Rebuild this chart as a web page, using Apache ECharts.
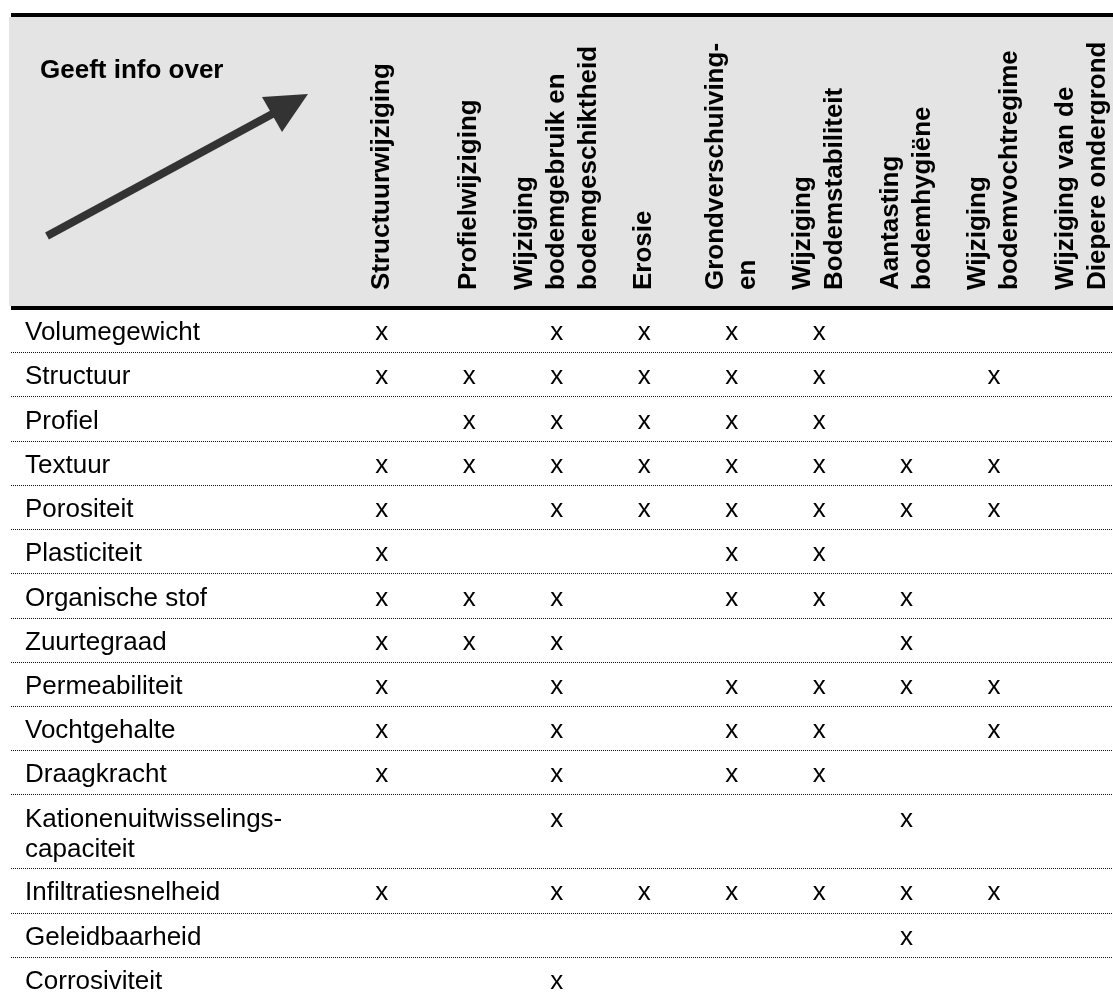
<!DOCTYPE html>
<html>
<head>
<meta charset="utf-8">
<script src="https://cdn.jsdelivr.net/npm/echarts@6/dist/echarts.min.js"></script>
<style>
html, body { margin: 0; padding: 0; background: #fff; }
#chart { width: 1113px; height: 1001px; }
</style>
</head>
<body>
<div id="chart"></div>
<script>
const headerTitle = 'Geeft info over'

const columns = [
    'Structuurwijziging',
    'Profielwijziging',
    'Wijziging\nbodemgebruik en\nbodemgeschiktheid',
    'Erosie',
    'Grondverschuiving-\nen',
    'Wijziging\nBodemstabiliteit',
    'Aantasting\nbodemhygiëne',
    'Wijziging\nbodemvochtregime',
    'Wijziging van de\nDiepere ondergrond'
]

const properties = [
    'Volumegewicht',
    'Structuur',
    'Profiel',
    'Textuur',
    'Porositeit',
    'Plasticiteit',
    'Organische stof',
    'Zuurtegraad',
    'Permeabiliteit',
    'Vochtgehalte',
    'Draagkracht',
    'Kationenuitwisselings-\ncapaciteit',
    'Infiltratiesnelheid',
    'Geleidbaarheid',
    'Corrosiviteit'
]

// 1 = "x" in the cell, one row per property, one column per header
const marks = [
    [1, 0, 1, 1, 1, 1, 0, 0, 0],
    [1, 1, 1, 1, 1, 1, 0, 1, 0],
    [0, 1, 1, 1, 1, 1, 0, 0, 0],
    [1, 1, 1, 1, 1, 1, 1, 1, 0],
    [1, 0, 1, 1, 1, 1, 1, 1, 0],
    [1, 0, 0, 0, 1, 1, 0, 0, 0],
    [1, 1, 1, 0, 1, 1, 1, 0, 0],
    [1, 1, 1, 0, 0, 0, 1, 0, 0],
    [1, 0, 1, 0, 1, 1, 1, 1, 0],
    [1, 0, 1, 0, 1, 1, 0, 1, 0],
    [1, 0, 1, 0, 1, 1, 0, 0, 0],
    [0, 0, 1, 0, 0, 0, 1, 0, 0],
    [1, 0, 1, 1, 1, 1, 1, 1, 0],
    [0, 0, 0, 0, 0, 0, 1, 0, 0],
    [0, 0, 1, 0, 0, 0, 0, 0, 0]
]

const font = "'Liberation Sans', Arial, Helvetica, sans-serif"
const rowPx = 44.7
const extraLine = 0.67
const xMin = -4.24
const xMax = 8.36

// row tops in "row units" (taller rows for wrapped labels)
const rowTops = []
let total = 0
properties.forEach(p => {
    rowTops.push(total)
    total += 1 + (p.split('\n').length - 1) * extraLine
})

const cells = []
marks.forEach((row, r) => {
    row.forEach((v, c) => {
        if (v) cells.push([c, rowTops[r]])
    })
})

const chart = echarts.init(document.getElementById('chart'))

const option = {
    animation: false,
    grid: { left: 11, right: 0, top: 308, height: total * rowPx },
    xAxis: { type: 'value', min: xMin, max: xMax, show: false },
    yAxis: { type: 'value', min: 0, max: total, inverse: true, show: false },
    graphic: [
        { type: 'rect', z: 0, shape: { x: 9, y: 17, width: 1104, height: 289 }, style: { fill: '#e4e4e4' } },
        { type: 'rect', z: 1, shape: { x: 11, y: 13, width: 1102, height: 4 }, style: { fill: '#000' } },
        { type: 'rect', z: 1, shape: { x: 11, y: 306, width: 1102, height: 4 }, style: { fill: '#000' } },
        {
            type: 'text', z: 1, x: 40, y: 71,
            style: { text: headerTitle, fontFamily: font, fontSize: 26, fontWeight: 'bold', fill: '#000', verticalAlign: 'middle' }
        },
        {
            type: 'line', z: 1,
            shape: { x1: 47, y1: 236, x2: 276, y2: 112 },
            style: { stroke: '#333', lineWidth: 8 }
        },
        {
            type: 'polygon', z: 1,
            shape: { points: [[308, 94], [262, 97], [282, 132]] },
            style: { fill: '#333' }
        }
    ],
    series: [
        {
            // column headers, rotated
            type: 'custom',
            name: 'header',
            z: 5,
            clip: false,
            data: columns.map((c, i) => [i, 0]),
            renderItem: (params, api) => {
                const x = api.coord([api.value(0), 0])[0]
                return {
                    type: 'text',
                    x: x,
                    y: params.coordSys.y - 18,
                    rotation: Math.PI / 2,
                    style: {
                        text: columns[params.dataIndex],
                        fontFamily: font,
                        fontSize: 26,
                        fontWeight: 'bold',
                        lineHeight: 32,
                        fill: '#000',
                        align: 'left',
                        verticalAlign: 'middle'
                    }
                }
            }
        },
        {
            // row labels + dotted separators
            type: 'custom',
            name: 'rows',
            z: 5,
            clip: false,
            data: properties.map((p, i) => [xMin, rowTops[i]]),
            renderItem: (params, api) => {
                const i = params.dataIndex
                const cs = params.coordSys
                const top = api.coord([0, api.value(1)])[1]
                const next = i + 1 < properties.length ? rowTops[i + 1] : total
                const bottom = Math.round(api.coord([0, next])[1]) + 0.5
                return {
                    type: 'group',
                    children: [
                        {
                            type: 'text',
                            x: cs.x + 14,
                            y: top + 10,
                            style: {
                                text: properties[i],
                                fontFamily: font,
                                fontSize: 26,
                                lineHeight: 30,
                                fill: '#000',
                                align: 'left',
                                verticalAlign: 'top'
                            }
                        },
                        {
                            type: 'line',
                            shape: { x1: cs.x, y1: bottom, x2: cs.x + cs.width, y2: bottom },
                            style: { stroke: '#111', lineWidth: 1, lineDash: [1, 1] }
                        }
                    ]
                }
            }
        },
        {
            // the x marks
            type: 'custom',
            name: 'marks',
            z: 5,
            clip: false,
            data: cells,
            renderItem: (params, api) => {
                const p = api.coord([api.value(0), api.value(1)])
                return {
                    type: 'text',
                    x: p[0],
                    y: p[1] + 10,
                    style: {
                        text: 'x',
                        fontFamily: font,
                        fontSize: 26,
                        lineHeight: 30,
                        fill: '#000',
                        align: 'center',
                        verticalAlign: 'top'
                    }
                }
            }
        }
    ]
}

option && chart.setOption(option)
</script>
</body>
</html>
